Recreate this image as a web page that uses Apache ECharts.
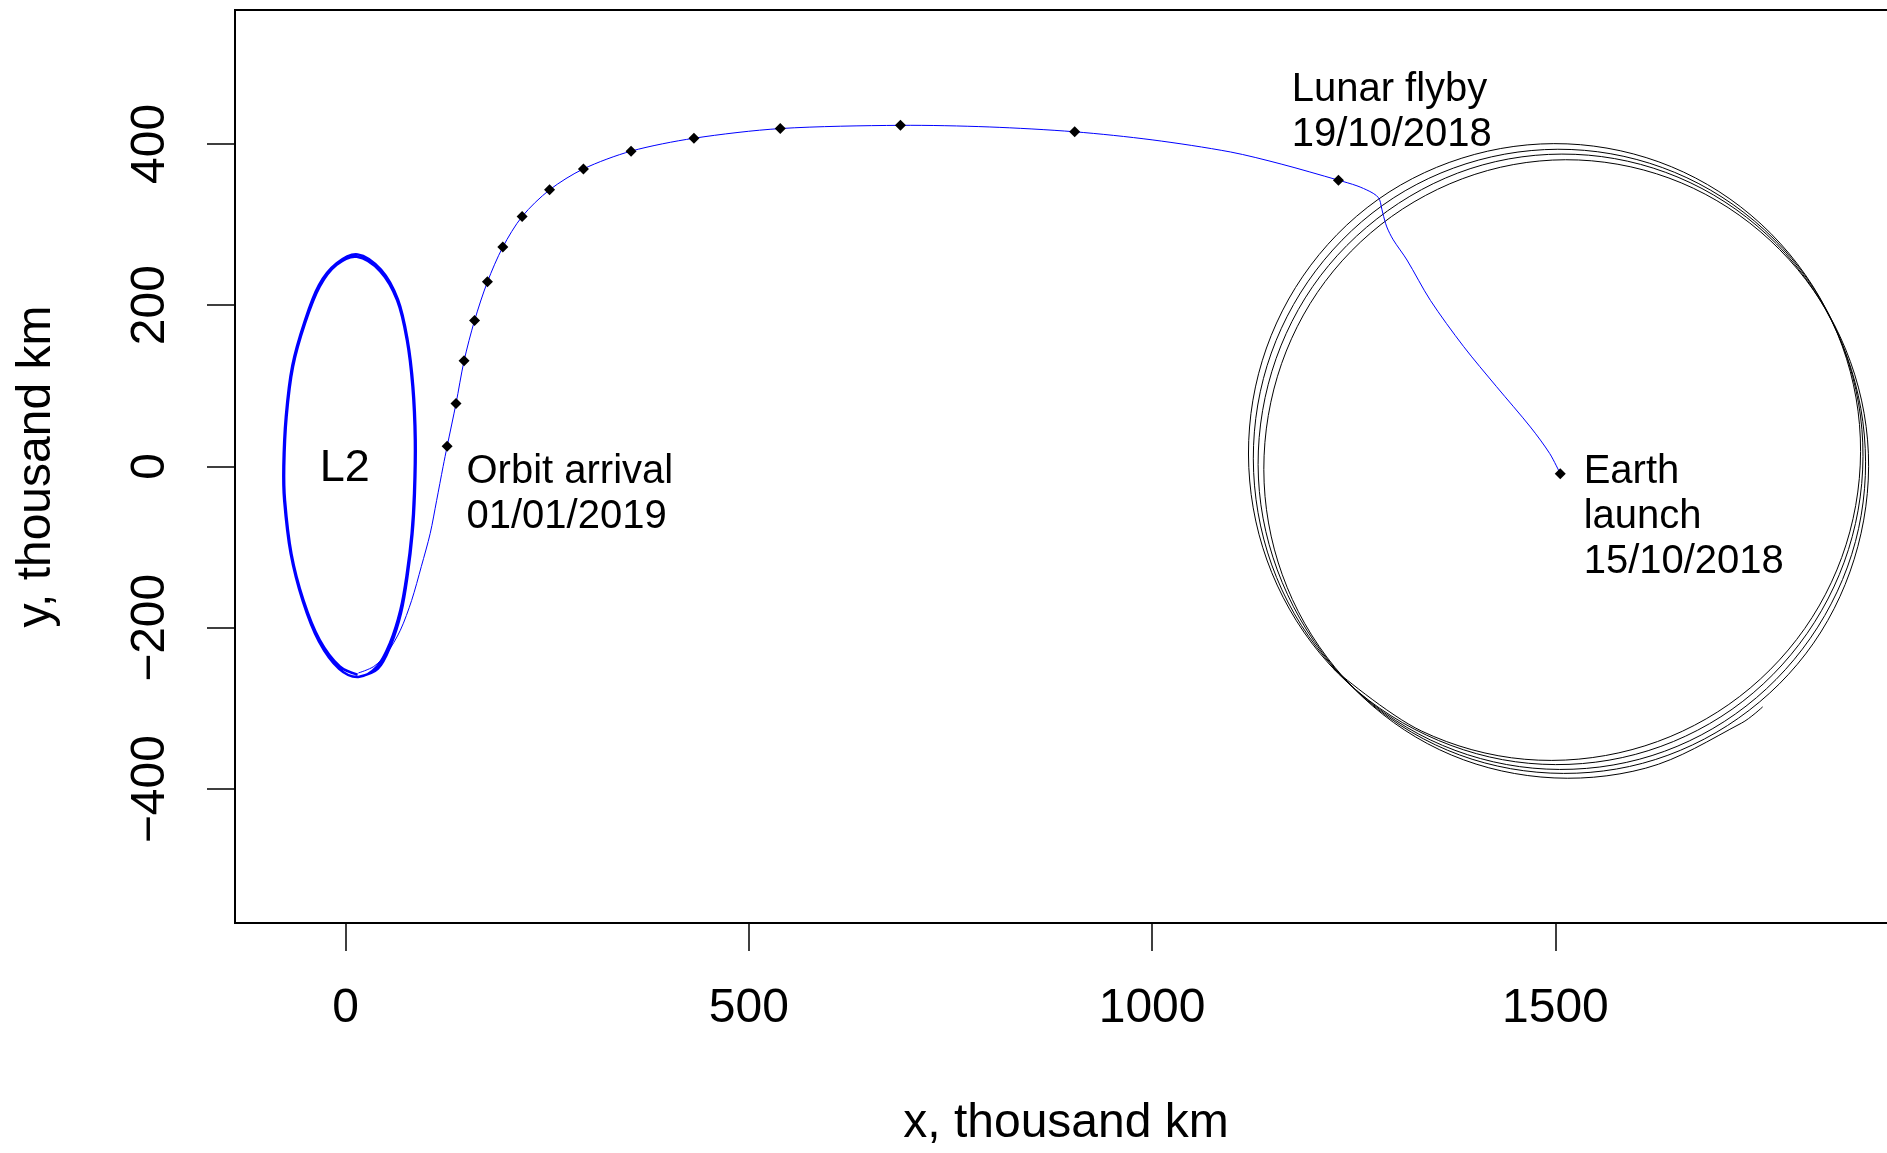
<!DOCTYPE html>
<html>
<head>
<meta charset="utf-8">
<script src="https://cdn.jsdelivr.net/npm/echarts@6/dist/echarts.min.js"></script>
<style>
html, body { margin: 0; padding: 0; background: #fff; }
#chart { width: 1887px; height: 1153px; }
</style>
</head>
<body>
<div id="chart"></div>
<script>
// tick positions, thousand km
const xTicks = [0, 500, 1000, 1500];
const yTicks = [-400, -200, 0, 200, 400];

// halo orbit round L2, two passes
const haloOrbit = [
  [15, -258], [-7, -248], [-32, -215], [-52, -166], [-67, -108], [-75, -42], [-76, 0], [-73, 62],
  [-65, 124], [-50, 178], [-32, 223], [-11, 250], [14, 260], [43, 242], [64, 206], [76, 157],
  [83, 99], [86, 33], [85, -33], [82, -83], [76, -133], [68, -178], [55, -219], [39, -248],
  [16, -261], [-8, -251], [-33, -217], [-53, -167], [-68, -108], [-76, -42], [-77, 0], [-74, 62],
  [-66, 125], [-51, 179], [-33, 225], [-11, 252], [15, 263], [44, 244], [65, 207], [77, 157],
  [84, 99], [87, 33], [86, -33], [83, -84], [77, -135], [69, -181], [56, -222], [40, -251], [16, -261]
];

// transfer from Earth past the Moon to the halo orbit
const transferPath = [
  [1506, -9], [1493, 16], [1469, 49], [1427, 99], [1386, 149], [1345, 206], [1316, 256], [1299, 281],
  [1291, 297], [1286, 314], [1284, 323], [1282, 331], [1278, 336], [1270, 341], [1254, 348], [1231, 355],
  [1160, 375], [1097, 390], [1000, 405], [904, 415], [798, 421], [688, 423], [539, 419], [432, 407],
  [354, 391], [295, 369], [253, 343], [219, 310], [195, 272], [176, 229], [160, 181], [147, 131],
  [137, 78], [126, 25], [121, 0], [113, -42], [105, -83], [94, -124], [82, -166], [68, -203],
  [51, -232], [35, -248], [16, -256]
];

// position markers along the transfer (last one = Earth launch)
const trackMarkers = [
  [126, 25], [137, 78], [147, 131], [160, 181], [176, 229], [195, 272], [219, 310], [253, 343],
  [295, 369], [354, 391], [432, 407], [539, 419], [688, 423], [904, 415], [1231, 355], [1506, -9]
];

// Moon orbit, a little over four turns, ends in the tail at lower right
const moonOrbit = [
  [1225, -251], [1334, -328], [1462, -363], [1595, -351], [1715, -295], [1809, -201], [1865, -81], [1877, 52],
  [1843, 180], [1767, 289], [1659, 365], [1531, 399], [1400, 387], [1280, 331], [1187, 236], [1132, 115],
  [1121, -18], [1155, -147],
  [1231, -257], [1340, -333], [1467, -368], [1599, -357], [1719, -301], [1812, -207], [1868, -87], [1880, 46],
  [1846, 174], [1771, 282], [1663, 358], [1536, 392], [1405, 380], [1286, 324], [1193, 229], [1138, 109],
  [1127, -24], [1161, -153],
  [1237, -262], [1345, -339], [1472, -374], [1604, -363], [1723, -307], [1816, -213], [1872, -93], [1883, 39],
  [1849, 167], [1774, 276], [1667, 352], [1541, 386], [1410, 374], [1292, 317], [1199, 223], [1144, 102],
  [1133, -31], [1168, -159],
  [1243, -268], [1351, -345], [1477, -379], [1608, -368], [1727, -312], [1820, -219], [1875, -99], [1887, 33],
  [1853, 161], [1778, 269], [1671, 345], [1545, 379], [1416, 367], [1297, 310], [1205, 216], [1151, 96],
  [1140, -37], [1174, -165],
  [1249, -274], [1356, -351], [1482, -385], [1612, -374], [1731, -318], [1757, -298]
];

const labelTexts = ['Orbit arrival\n01/01/2019', 'Lunar flyby\n19/10/2018', 'Earth\nlaunch\n15/10/2018'];

const FONT = "'Liberation Sans', Arial, sans-serif";

const chart = echarts.init(document.getElementById('chart'));

// one smooth path through all points of a track, mapped by the grid's axes
// (line series clamps its control points and flattens round shapes)
function trackSeries(name, points, color, width, smooth) {
  return {
    name: name,
    type: 'custom',
    data: points,
    encode: { x: 0, y: 1 },
    silent: true,
    renderItem: (params, api) => {
      if (params.dataIndex !== 0) return null;
      return {
        type: 'polyline',
        shape: { points: points.map(p => api.coord(p)), smooth: smooth },
        style: { stroke: color, lineWidth: width, fill: 'none' }
      };
    }
  };
}

const option = {
  animation: false,
  backgroundColor: '#fff',
  grid: {
    left: 235,
    top: 10,
    right: -10,
    bottom: 230,
    show: true,
    borderColor: '#000',
    borderWidth: 2,
    outerBoundsMode: 'none'
  },
  xAxis: {
    type: 'value',
    min: -137,
    max: 1923.5,
    splitLine: { show: false },
    axisLine: { show: false, onZero: false },
    axisTick: {
      show: true,
      length: 28,
      customValues: xTicks,
      lineStyle: { color: '#000', width: 1.5 }
    },
    axisLabel: {
      customValues: xTicks,
      margin: 62,
      fontSize: 48,
      color: '#000',
      fontFamily: FONT,
      formatter: v => String(v)
    },
    name: 'x, thousand km',
    nameLocation: 'middle',
    nameGap: 177,
    nameTextStyle: { fontSize: 48, color: '#000', fontFamily: FONT }
  },
  yAxis: {
    type: 'value',
    min: -566,
    max: 566,
    splitLine: { show: false },
    axisLine: { show: false, onZero: false },
    axisTick: {
      show: true,
      length: 28,
      customValues: yTicks,
      lineStyle: { color: '#000', width: 1.5 }
    },
    axisLabel: {
      customValues: yTicks,
      rotate: 90,
      margin: 60,
      fontSize: 48,
      color: '#000',
      fontFamily: FONT,
      formatter: v => String(v).replace('-', '\u2212')
    },
    name: 'y, thousand km',
    nameLocation: 'middle',
    nameGap: 174,
    nameTextStyle: { fontSize: 48, color: '#000', fontFamily: FONT }
  },
  series: [
    trackSeries('Moon', moonOrbit, '#000', 1, 0.34),
    trackSeries('Halo', haloOrbit, '#0000ff', 2.5, 0.34),
    trackSeries('Transfer', transferPath, '#0000ff', 1, 0.3),
    {
      name: 'Markers',
      type: 'scatter',
      data: trackMarkers,
      symbol: 'diamond',
      symbolSize: 11,
      silent: true,
      itemStyle: { color: '#000', opacity: 1 }
    }
  ]
};

chart.setOption(option);

// text anchors: left edge and first baseline, in data units
const labelAnchors = [[150, -24], [1173, 450], [1535, -23]];
const px = p => chart.convertToPixel({ gridIndex: 0 }, p);

const graphics = labelTexts.map((t, i) => {
  const p = px(labelAnchors[i]);
  return {
    type: 'text',
    x: p[0],
    y: p[1] - 36,
    silent: true,
    style: {
      text: t,
      font: '40px ' + FONT,
      fill: '#000',
      align: 'left',
      verticalAlign: 'top',
      lineHeight: 45
    }
  };
});

const l2 = px([-1, -2]);
graphics.push({
  type: 'text',
  x: l2[0],
  y: l2[1],
  silent: true,
  style: {
    text: 'L2',
    font: '45px ' + FONT,
    fill: '#000',
    align: 'center',
    verticalAlign: 'middle'
  }
});

chart.setOption({ graphic: graphics });

window.addEventListener('resize', () => {
  chart.resize();
});
</script>
</body>
</html>
